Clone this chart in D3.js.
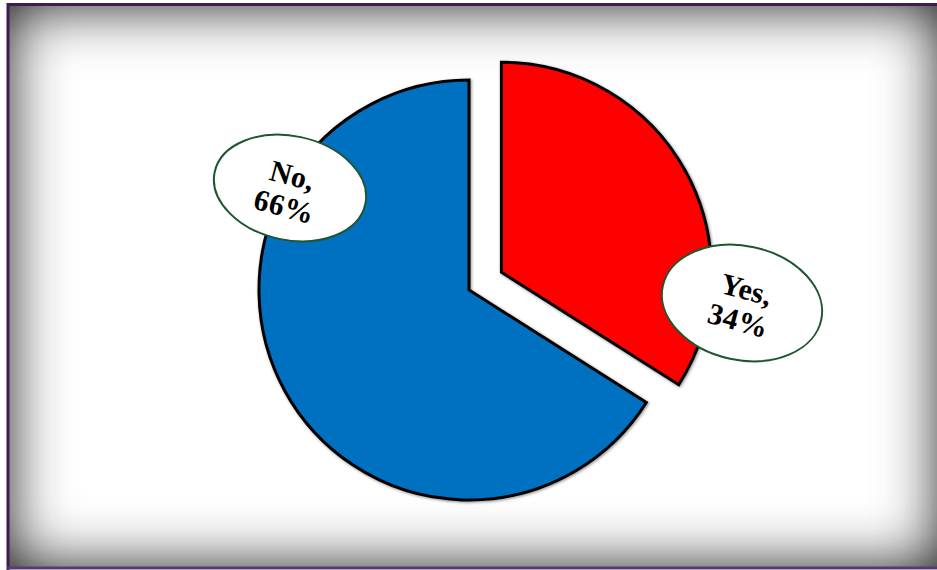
<!DOCTYPE html>
<html>
<head>
<meta charset="utf-8">
<script src="https://cdn.jsdelivr.net/npm/d3@7"></script>
<style>
  body { margin: 0; background: #fff; }
  svg { display: block; }
</style>
</head>
<body>
<div id="chart"></div>
<script>
const labels = ["Yes", "No"];
const values = [34, 66];
const colors = ["#FF0000", "#0070C0"];

const w = 937, h = 570;
const cx = 469, cy = 290, r = 210;
const explode = 37;

const svg = d3.select("#chart").append("svg")
  .attr("width", w)
  .attr("height", h);

const defs = svg.append("defs");

// inner shadow on the frame
const inner = defs.append("filter").attr("id", "inner")
  .attr("filterUnits", "userSpaceOnUse")
  .attr("x", -100).attr("y", -100).attr("width", w + 200).attr("height", h + 200);
inner.append("feFlood").attr("flood-color", "#333").attr("flood-opacity", 1).attr("result", "c");
inner.append("feComposite").attr("in", "c").attr("in2", "SourceAlpha").attr("operator", "out").attr("result", "inv");
inner.append("feGaussianBlur").attr("in", "inv").attr("stdDeviation", 30).attr("result", "blur");
inner.append("feComposite").attr("in", "blur").attr("in2", "SourceAlpha").attr("operator", "in").attr("result", "sh");
const m = inner.append("feMerge");
m.append("feMergeNode").attr("in", "SourceGraphic");
m.append("feMergeNode").attr("in", "sh");
m.append("feMergeNode").attr("in", "sh");

const drop = defs.append("filter").attr("id", "drop")
  .attr("x", "-10%").attr("y", "-10%").attr("width", "120%").attr("height", "120%");
drop.append("feDropShadow").attr("dx", 1).attr("dy", 1).attr("stdDeviation", 1.5)
  .attr("flood-color", "#000").attr("flood-opacity", 0.45);

svg.append("rect")
  .attr("x", 9).attr("y", 6).attr("width", w - 6).attr("height", 561)
  .attr("fill", "#fff")
  .attr("filter", "url(#inner)");

// frame border
svg.append("path")
  .attr("d", `M8,${h}V4.5H${w}`)
  .attr("fill", "none").attr("stroke", "#3d1d4f").attr("stroke-width", 3);
svg.append("line")
  .attr("x1", 7).attr("x2", w).attr("y1", 568).attr("y2", 568)
  .attr("stroke", "#5b3a74").attr("stroke-width", 3);

const pie = d3.pie().sort(null).value(d => d)(values);
const arc = d3.arc().innerRadius(0).outerRadius(r);

const g = svg.append("g").attr("transform", `translate(${cx},${cy})`);

g.selectAll("path.slice")
  .data(pie)
  .enter()
  .append("path")
  .attr("class", "slice")
  .attr("transform", (d, i) => {
    if (i !== 0) return null;
    const a = (d.startAngle + d.endAngle) / 2;
    return `translate(${Math.sin(a) * explode},${-Math.cos(a) * explode})`;
  })
  .attr("d", arc)
  .attr("fill", (d, i) => colors[i])
  .attr("stroke", "#000")
  .attr("stroke-width", 3)
  .attr("stroke-linejoin", "miter")
  .attr("filter", "url(#drop)");

// callout labels
const callouts = [
  { x: 742, y: 303, rx: 81, ry: 57, rot: 12, tx: 0, ty: 3 },
  { x: 290, y: 188, rx: 77, ry: 52, rot: 12, tx: -2, ty: 4 }
];

const lab = svg.selectAll("g.lab")
  .data(pie)
  .enter()
  .append("g")
  .attr("class", "lab")
  .attr("transform", (d, i) => `translate(${callouts[i].x},${callouts[i].y})`);

lab.append("ellipse")
  .attr("transform", (d, i) => `rotate(${callouts[i].rot})`)
  .attr("rx", (d, i) => callouts[i].rx)
  .attr("ry", (d, i) => callouts[i].ry)
  .attr("fill", "#fff")
  .attr("stroke", "#1e5631")
  .attr("stroke-width", 2);

const t = lab.append("text")
  .attr("transform", (d, i) => `translate(${callouts[i].tx},${callouts[i].ty}) rotate(15)`)
  .attr("text-anchor", "middle")
  .attr("font-family", "'Liberation Serif', 'Times New Roman', serif")
  .attr("font-weight", "bold")
  .attr("font-size", 30)
  .attr("letter-spacing", 0.3);
t.append("tspan").attr("x", 0).attr("y", -7).text((d, i) => labels[i] + ",");
t.append("tspan").attr("x", 0).attr("y", 25).text((d, i) => values[i] + "%");
</script>
</body>
</html>
